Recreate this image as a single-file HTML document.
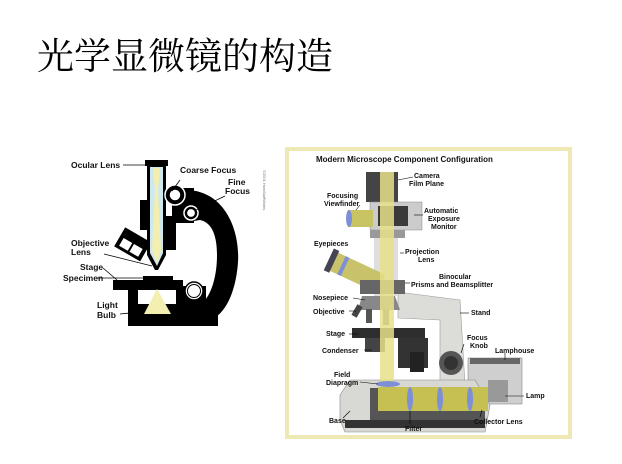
<!DOCTYPE html>
<html><head><meta charset="utf-8"><style>
html,body{margin:0;padding:0;background:#fff;}
svg{display:block;}
text{font-family:"Liberation Sans",sans-serif;font-weight:bold;fill:#111;}
</style></head><body>
<svg width="622" height="464" viewBox="0 0 622 464" xmlns="http://www.w3.org/2000/svg">
<text x="37" y="69" style="font-family:'Liberation Serif','Noto Serif CJK SC',serif;font-weight:normal;font-size:37px;fill:#000">光学显微镜的构造</text>

<!-- LEFT DIAGRAM -->
<g>
  <!-- arm -->
  <path d="M188 190 C225 192 240 230 238 262 C236 292 225 318 205 322 L205 300 C212 292 217 275 217 255 C217 232 210 222 200 220 L188 222 Z" fill="#000"/>
  <rect x="172" y="188" width="22" height="35" fill="#000"/>
  <!-- upper body around tube -->
  <rect x="140" y="200" width="12" height="30" fill="#000"/>
  <rect x="162" y="216" width="14" height="34" fill="#000"/>
  <!-- base -->
  <rect x="128" y="304" width="90" height="22" fill="#000"/>
  <rect x="113" y="280" width="70" height="10" fill="#000"/>
  <rect x="128" y="288" width="10" height="20" fill="#000"/>
  <rect x="176" y="286" width="30" height="24" fill="#000"/>
  <rect x="143" y="276" width="30" height="4" fill="#000"/>
  <!-- light cone -->
  <polygon points="157,289 144,314 171,314" fill="#f3efb0"/>
  <!-- objective turret -->
  <g transform="rotate(30 134 244)">
    <rect x="118" y="234" width="30" height="22" fill="#000"/>
    <rect x="122" y="244" width="10" height="9" fill="#fff"/>
    <rect x="134" y="244" width="10" height="9" fill="#fff"/>
  </g>
  <!-- tube -->
  <rect x="145" y="160" width="23" height="6" fill="#000"/>
  <path d="M147 166 L166 166 L166 255 L158 270 L155 270 L147 255 Z" fill="#000"/>
  <path d="M150 167 L163 167 L163 253 L157 266 L150 253 Z" fill="#cfe8ef"/>
  <path d="M153 168 L160 168 L158 190 L161 250 L157 264 L152 250 L155 190 Z" fill="#f3efb0"/>
  <!-- circles -->
  <circle cx="175" cy="195" r="10" fill="#000" stroke="#fff" stroke-width="1.5"/>
  <circle cx="175" cy="195" r="6" fill="#fff" stroke="#000" stroke-width="1.5"/>
  <circle cx="191" cy="213" r="7" fill="#000" stroke="#fff" stroke-width="1.5"/>
  <circle cx="191" cy="213" r="4.5" fill="#fff" stroke="#000" stroke-width="1.2"/>
  <circle cx="194" cy="291" r="9" fill="#fff" stroke="#000" stroke-width="1.5"/>
  <circle cx="194" cy="291" r="6.5" fill="#fff" stroke="#000" stroke-width="1"/>
  <!-- leader lines -->
  <g stroke="#000" stroke-width="0.8" fill="none">
    <line x1="123" y1="165" x2="146" y2="165"/>
    <line x1="180" y1="180" x2="172" y2="191"/>
    <line x1="225" y1="196" x2="196" y2="210"/>
    <line x1="104" y1="254" x2="152" y2="266"/>
    <line x1="103" y1="268" x2="117" y2="280"/>
    <line x1="97" y1="278" x2="146" y2="278"/>
    <line x1="120" y1="314" x2="140" y2="312"/>
  </g>
  <g style="font-size:8.5px">
    <text x="71" y="168">Ocular Lens</text>
    <text x="180" y="173">Coarse Focus</text>
    <text x="228" y="185">Fine</text>
    <text x="225" y="194">Focus</text>
    <text x="71" y="246">Objective</text>
    <text x="71" y="255">Lens</text>
    <text x="80" y="270">Stage</text>
    <text x="63" y="281">Specimen</text>
    <text x="97" y="308">Light</text>
    <text x="97" y="318">Bulb</text>
  </g>
  <text x="263" y="170" transform="rotate(90 263 170)" style="font-size:4px;font-weight:normal;fill:#777">©2001 HowStuffWorks</text>
</g>

<!-- RIGHT DIAGRAM -->
<rect x="287" y="149" width="283" height="288" fill="#fff" stroke="#eee8b4" stroke-width="4"/>
<text x="316" y="162" style="font-size:8px">Modern Microscope Component Configuration</text>
<g>
  <!-- stand -->
  <polygon points="398,292 460,300 465,385 440,385 440,320 398,318" fill="#dcdcd8" stroke="#999" stroke-width="0.6"/>
  <rect x="374" y="236" width="24" height="60" fill="#dedede"/>
  <!-- camera top -->
  <rect x="366" y="172" width="32" height="30" fill="#444"/>
  <rect x="370" y="202" width="52" height="28" fill="#ccc" stroke="#888" stroke-width="0.5"/>
  <rect x="378" y="206" width="30" height="20" fill="#3a3a3a"/>
  <rect x="370" y="230" width="35" height="8" fill="#999"/>
  <!-- viewfinder -->
  <rect x="348" y="210" width="25" height="17" fill="#c9c463"/>
  <ellipse cx="349" cy="218.5" rx="3" ry="8.5" fill="#7d8fd6"/>
  <!-- eyepiece tube -->
  <g transform="rotate(25 356 272)">
    <rect x="328" y="262" width="56" height="20" fill="#c8c26a"/>
    <rect x="326" y="260" width="6" height="24" fill="#445"/>
    <rect x="340" y="262" width="4" height="20" fill="#7d8fd6"/>
  </g>
  <!-- head -->
  <rect x="360" y="280" width="45" height="14" fill="#666"/>
  <!-- nosepiece/objectives -->
  <polygon points="362,296 395,296 400,310 358,310" fill="#888"/>
  <rect x="354" y="305" width="6" height="12" fill="#444" transform="rotate(30 357 311)"/>
  <rect x="366" y="309" width="6" height="14" fill="#555"/>
  <rect x="383" y="309" width="6" height="16" fill="#666"/>
  <!-- stage -->
  <rect x="352" y="328" width="73" height="10" fill="#2e2e2e"/>
  <rect x="365" y="338" width="20" height="14" fill="#444"/>
  <rect x="398" y="338" width="30" height="30" fill="#333"/>
  <rect x="410" y="352" width="14" height="20" fill="#222"/>
  <!-- focus knob -->
  <circle cx="451" cy="363" r="12" fill="#555"/>
  <circle cx="451" cy="363" r="7" fill="#333"/>
  <!-- lamphouse -->
  <rect x="468" y="358" width="54" height="46" fill="#cfcfcf" stroke="#888" stroke-width="0.6"/>
  <rect x="470" y="358" width="50" height="6" fill="#666"/>
  <rect x="488" y="380" width="20" height="22" fill="#999"/>
  <!-- base -->
  <polygon points="340,395 350,380 475,380 490,405 485,432 345,432 340,420" fill="#d8d8d4" stroke="#888" stroke-width="0.6"/>
  <rect x="370" y="388" width="115" height="32" fill="#555"/>
  <rect x="345" y="420" width="140" height="8" fill="#333"/>
  <!-- light path -->
  <rect x="380" y="172" width="14" height="215" fill="#e6e08a" opacity="0.85"/>
  <rect x="378" y="387" width="110" height="24" fill="#c6c052"/>
  <ellipse cx="388" cy="384" rx="12" ry="3" fill="#7d8fd6"/>
  <ellipse cx="410" cy="399" rx="3" ry="12" fill="#7d8fd6"/>
  <ellipse cx="440" cy="399" rx="3" ry="12" fill="#7d8fd6"/>
  <ellipse cx="470" cy="399" rx="3" ry="12" fill="#7d8fd6"/>
  <!-- leader lines -->
  <g stroke="#000" stroke-width="0.6">
    <line x1="398" y1="180" x2="413" y2="177"/>
    <line x1="360" y1="205" x2="356" y2="210"/>
    <line x1="414" y1="215" x2="423" y2="215"/>
    <line x1="400" y1="253" x2="404" y2="253"/>
    <line x1="405" y1="283" x2="410" y2="283"/>
    <line x1="353" y1="298" x2="365" y2="300"/>
    <line x1="349" y1="311" x2="356" y2="311"/>
    <line x1="460" y1="313" x2="469" y2="313"/>
    <line x1="349" y1="334" x2="358" y2="334"/>
    <line x1="364" y1="350" x2="372" y2="350"/>
    <line x1="461" y1="353" x2="464" y2="344"/>
    <line x1="505" y1="353" x2="505" y2="360"/>
    <line x1="360" y1="382" x2="378" y2="384"/>
    <line x1="505" y1="396" x2="524" y2="396"/>
    <line x1="343" y1="418" x2="350" y2="411"/>
    <line x1="410" y1="411" x2="410" y2="424"/>
    <line x1="482" y1="410" x2="480" y2="417"/>
  </g>
  <g style="font-size:7px">
    <text x="414" y="178">Camera</text>
    <text x="409" y="186">Film Plane</text>
    <text x="327" y="198">Focusing</text>
    <text x="324" y="206">Viewfinder</text>
    <text x="424" y="213">Automatic</text>
    <text x="428" y="221">Exposure</text>
    <text x="431" y="229">Monitor</text>
    <text x="314" y="246">Eyepieces</text>
    <text x="405" y="254">Projection</text>
    <text x="418" y="262">Lens</text>
    <text x="439" y="279">Binocular</text>
    <text x="411" y="287">Prisms and Beamsplitter</text>
    <text x="313" y="300">Nosepiece</text>
    <text x="313" y="314">Objective</text>
    <text x="471" y="315">Stand</text>
    <text x="326" y="336">Stage</text>
    <text x="467" y="340">Focus</text>
    <text x="470" y="348">Knob</text>
    <text x="322" y="353">Condenser</text>
    <text x="495" y="353">Lamphouse</text>
    <text x="334" y="377">Field</text>
    <text x="326" y="385">Diapragm</text>
    <text x="526" y="398">Lamp</text>
    <text x="329" y="423">Base</text>
    <text x="405" y="431">Filter</text>
    <text x="474" y="424">Collector Lens</text>
  </g>
</g>
</svg>
</body></html>
